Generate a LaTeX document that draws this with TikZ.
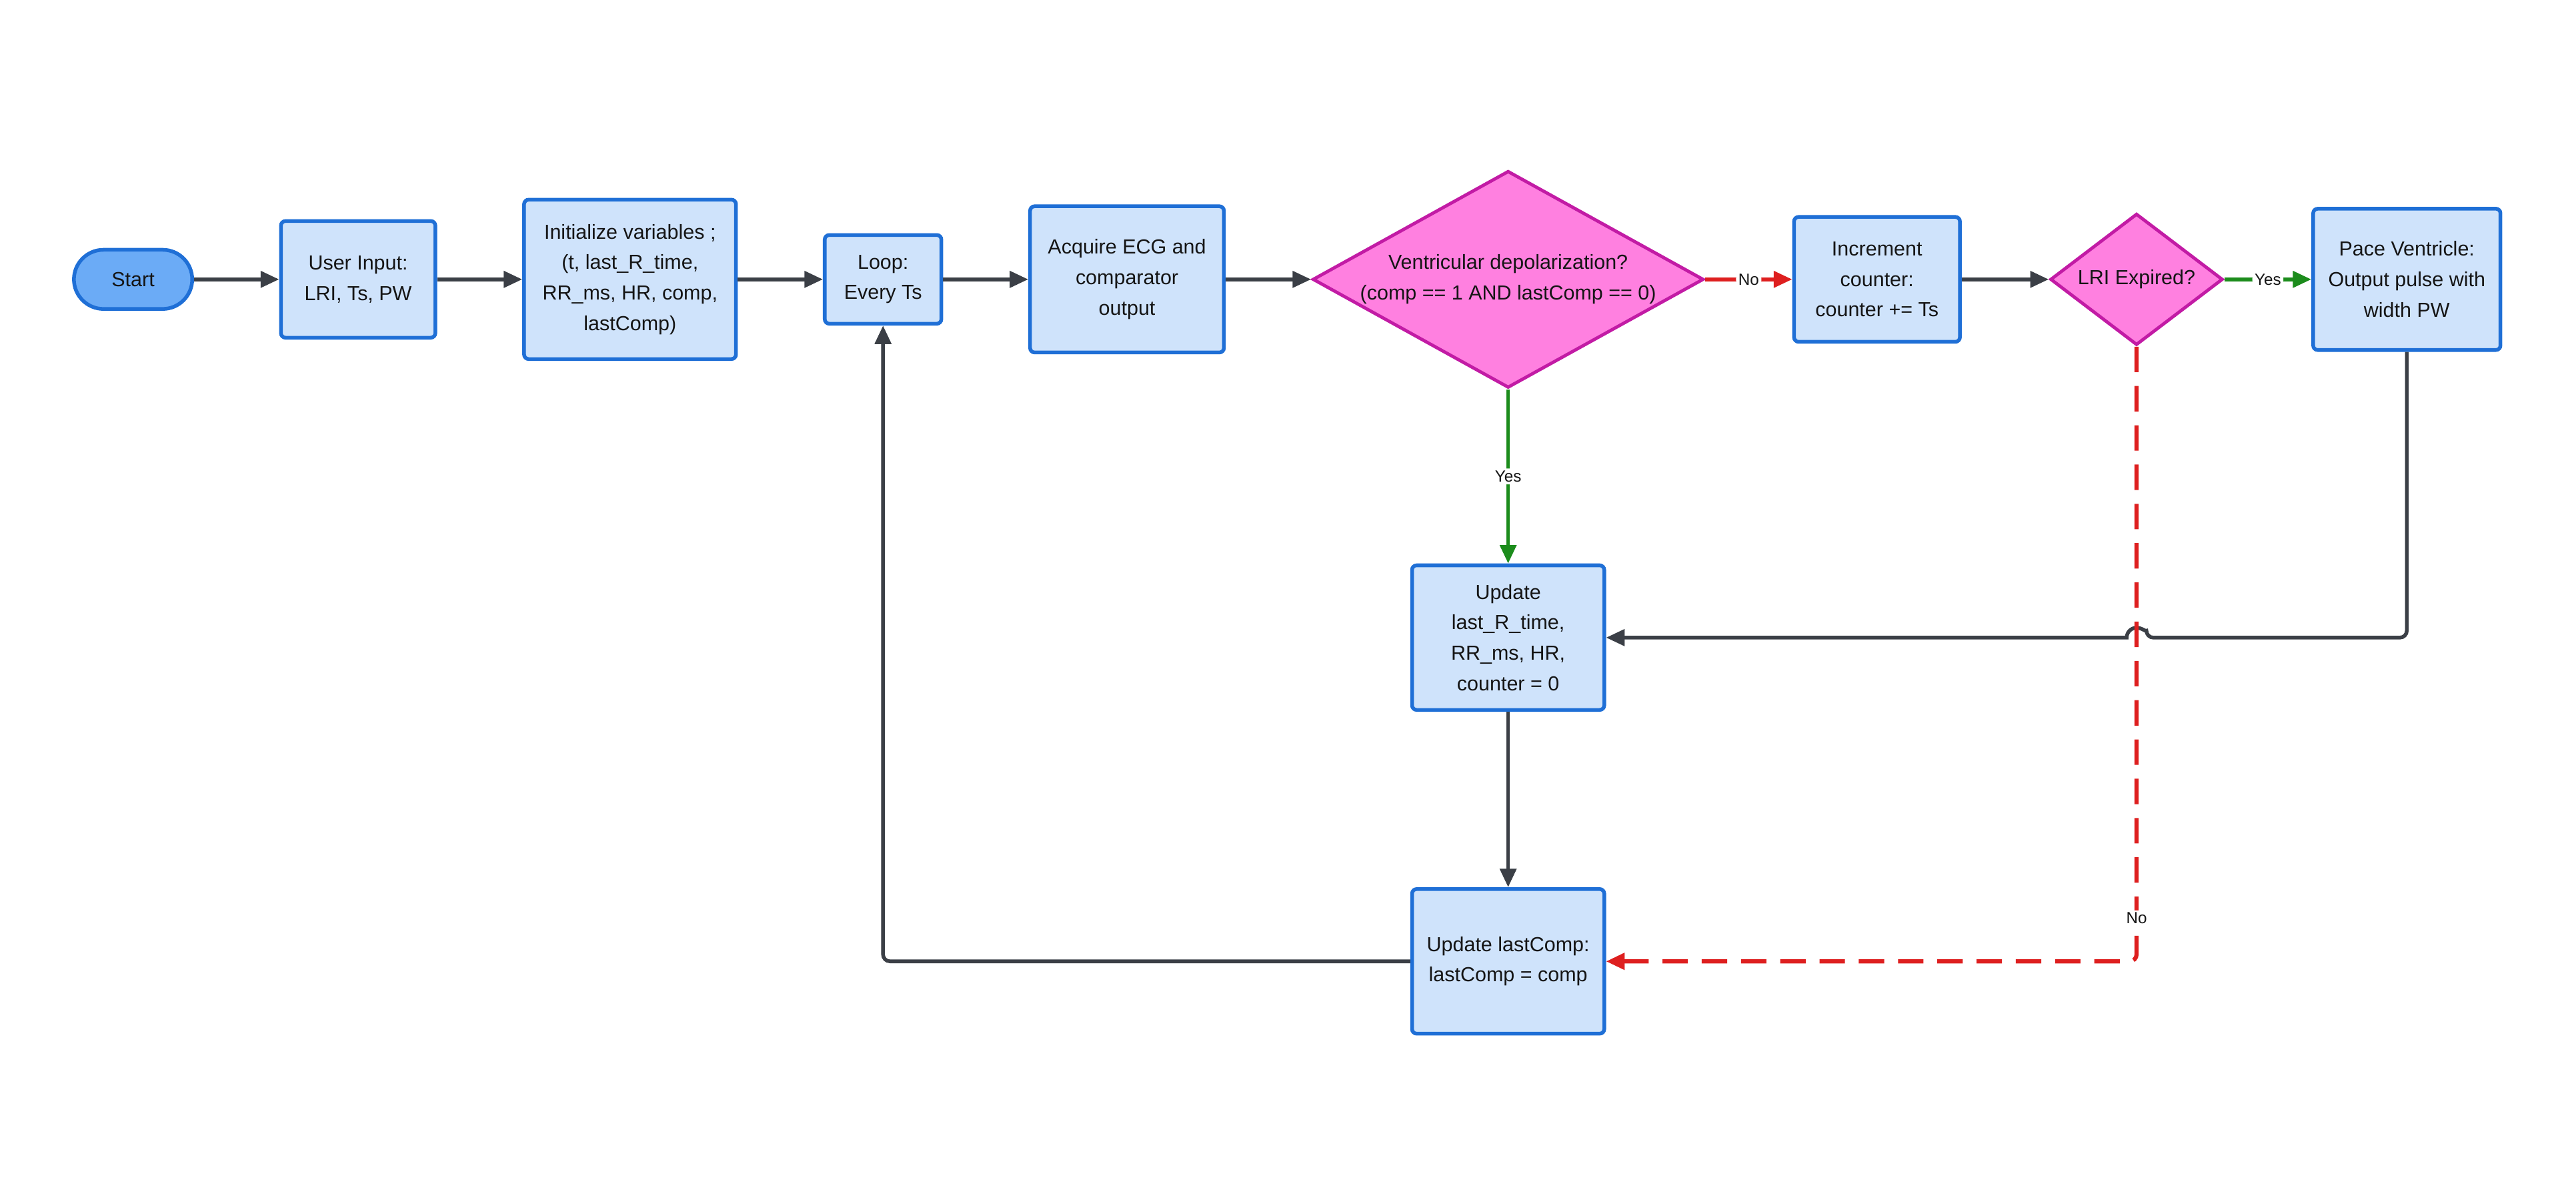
\documentclass[tikz,border=0pt]{standalone}
\usepackage{fontspec}
\setmainfont{Liberation Sans}
\usetikzlibrary{positioning, shapes.geometric, arrows.meta}

\definecolor{boxfill}{HTML}{CFE3FB}
\definecolor{boxedge}{HTML}{1F6FD6}
\definecolor{startfill}{HTML}{6BABF6}
\definecolor{decfill}{HTML}{FF80E0}
\definecolor{decedge}{HTML}{C21BA5}
\definecolor{arrowcol}{HTML}{3B3F46}
\definecolor{nored}{HTML}{DE1F1F}
\definecolor{yesgreen}{HTML}{1C8C1C}
\definecolor{textcol}{HTML}{151515}

\begin{document}
\begin{tikzpicture}[
        font=\fontsize{8.8}{13.2}\selectfont,
        block/.style={rectangle, draw=boxedge, fill=boxfill, text=textcol,
          align=center, rounded corners=2pt, line width=1.6pt},
        terminal/.style={rectangle, draw=boxedge, fill=startfill,
          text=textcol, rounded corners=0.45cm, minimum width=1.8cm,
          minimum height=0.9cm, line width=1.6pt},
        decision/.style={diamond, draw=decedge, fill=decfill, text=textcol,
          align=center, inner sep=0pt, line width=1.4pt},
        line/.style={draw=arrowcol, line width=1.6pt,
          -{Triangle[length=8pt, width=7pt]}, rounded corners=3pt},
        noline/.style={line, draw=nored},
        yesline/.style={line, draw=yesgreen},
        dashedline/.style={noline, line width=1.8pt, dash pattern=on 11pt off 6pt},
        tag/.style={fill=white, inner sep=1pt, text=textcol,
          font=\fontsize{7}{8}\selectfont}
      ]
      \useasboundingbox (0,0) rectangle (39.2,-18.225);

      % Main row
      \node [terminal] (t_start) at (2.025, -4.25) {Start};
      \node [block, minimum width=2.35cm, minimum height=1.775cm]
      (b_input) at (5.45, -4.25) {User Input:\\LRI, Ts, PW};
      \node [block, minimum width=3.225cm, minimum height=2.425cm]
      (b_init) at (9.5875, -4.25) {Initialize variables ;\\(t,
      last\_R\_time,\\RR\_ms, HR, comp,\\lastComp)};
      \node [block, minimum width=1.775cm, minimum height=1.35cm]
      (b_loop) at (13.4375, -4.25) {Loop:\\Every Ts};
      \node [block, minimum width=2.95cm, minimum height=2.225cm]
      (b_acquire) at (17.15, -4.25) {Acquire ECG and\\comparator\\output};
      \node [decision, aspect=1.803, minimum width=5.95cm,
      minimum height=3.3cm] (d_vent) at (22.95, -4.25)
      {Ventricular depolarization?\\(comp == 1 AND lastComp == 0)};
      \node [block, minimum width=2.525cm, minimum height=1.9cm]
      (b_incr) at (28.5625, -4.25) {Increment\\counter:\\counter += Ts};
      \node [decision, aspect=1.3125, minimum width=2.625cm,
      minimum height=2.0cm] (d_lri) at (32.5125, -4.25) {LRI Expired?};
      \node [block, minimum width=2.85cm, minimum height=2.15cm]
      (b_pace) at (36.625, -4.25) {Pace Ventricle:\\Output pulse with\\width PW};

      % Update column
      \node [block, minimum width=2.925cm, minimum height=2.2cm]
      (b_state) at (22.95, -9.7) {Update\\last\_R\_time,\\RR\_ms,
      HR,\\counter = 0};
      \node [block, minimum width=2.925cm, minimum height=2.2cm]
      (b_last) at (22.95, -14.625) {Update lastComp:\\lastComp = comp};

      \coordinate (hop) at (d_lri.south |- b_state.east);
      \coordinate (lri_turn) at (d_lri.south |- b_last.east);

      % Paths along the main row
      \path [line] (t_start) -- (b_input);
      \path [line] (b_input) -- (b_init);
      \path [line] (b_init) -- (b_loop);
      \path [line] (b_loop) -- (b_acquire);
      \path [line] (b_acquire) -- (d_vent);
      \path [noline] (d_vent) -- node[tag] {No} (b_incr);
      \path [line] (b_incr) -- (d_lri);
      \path [yesline] (d_lri) -- node[tag] {Yes} (b_pace);

      % Paths down and back
      \path [yesline] (d_vent) -- node[tag] {Yes} (b_state);
      \path [line] (b_state) -- (b_last);
      \path [line] (b_pace.south) |- ([xshift=0.15cm]hop)
      [sharp corners] arc[start angle=0, end angle=180, radius=0.15cm]
      -- (b_state.east);
      \path [dashedline] (d_lri.south)
      -- node[tag, pos=0.93] {No} (lri_turn)
      -- (b_last.east);
      \path [line] (b_last.west) -| (b_loop.south);

    \end{tikzpicture}
\end{document}
